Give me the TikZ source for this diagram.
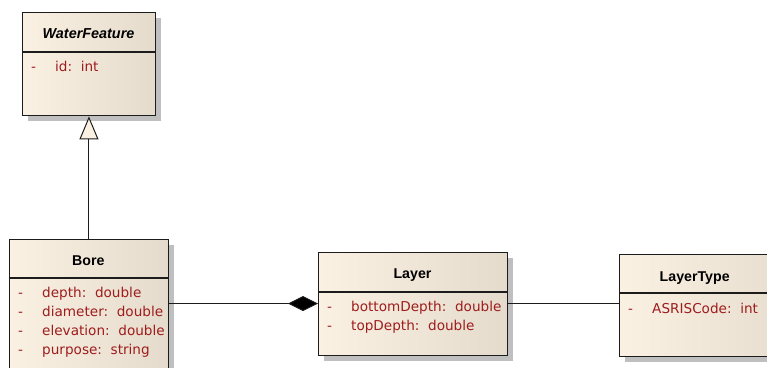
\documentclass[tikz,border=0pt]{standalone}
\usepackage{fontspec}
\setmainfont{DejaVu Sans}
\newfontfamily\titlefont{Liberation Sans}
\usetikzlibrary{shadows,arrows.meta}
\definecolor{cream}{HTML}{FAF1E3}
\definecolor{creamdark}{HTML}{E5DBCC}
\definecolor{attr}{HTML}{9E1C1C}
\definecolor{edge}{HTML}{1C1C1C}
\tikzset{
  classbox/.style={draw=edge, line width=1.4pt, left color=cream, right color=creamdark,
    drop shadow={shadow xshift=5pt, shadow yshift=-5pt, fill=black!25, opacity=1},
    inner sep=0pt, anchor=north west},
  divider/.style={draw=edge, line width=1.2pt},
  title/.style={font=\titlefont\fontsize{14.2}{16}\selectfont\bfseries, text=black, inner sep=0pt, anchor=base},
  ititle/.style={title, font=\titlefont\fontsize{14.4}{16}\selectfont\bfseries\itshape},
  attrtext/.style={font=\fontsize{13.6}{16}\selectfont, text=attr, inner sep=0pt, anchor=base west},
  link/.style={draw=edge, line width=1pt},
}
\begin{document}
\begin{tikzpicture}[x=1pt,y=-1pt]
\useasboundingbox (0,0) rectangle (767,367);
\clip (0,0) rectangle (767,367);
\fill[white] (0,0) rectangle (767,367);

% WaterFeature
\node[classbox, minimum width=133pt, minimum height=103pt] (wf) at (22,12) {};
\draw[divider] (22,52) -- (155,52);
\node[ititle] (wft) at (88.5,38.5) {WaterFeature};
\node[attrtext] (wfd1) at (31,71) {-};
\node[attrtext] (wfa1) at (55,71) {id:\ \ int};

% Bore
\node[classbox, minimum width=159.5pt, minimum height=140pt] (bore) at (8.5,239) {};
\draw[divider] (8.5,278) -- (168,278);
\node[title] (boret) at (88.25,265.7) {Bore};
\node[attrtext] (bd1) at (18,297.7) {-};
\node[attrtext] (ba1) at (42,297.7) {depth:\ \ double};
\node[attrtext] (bd2) at (18,316.7) {-};
\node[attrtext] (ba2) at (42,316.7) {diameter:\ \ double};
\node[attrtext] (bd3) at (18,335.7) {-};
\node[attrtext] (ba3) at (42,335.7) {elevation:\ \ double};
\node[attrtext] (bd4) at (18,354.7) {-};
\node[attrtext] (ba4) at (42,354.7) {purpose:\ \ string};

% Layer
\node[classbox, minimum width=189pt, minimum height=103pt] (layer) at (318,252) {};
\draw[divider] (318,292) -- (507,292);
\node[title] (layert) at (412.5,278.3) {Layer};
\node[attrtext] (ld1) at (327,311.6) {-};
\node[attrtext] (la1) at (351,311.6) {bottomDepth:\ \ double};
\node[attrtext] (ld2) at (327,330.6) {-};
\node[attrtext] (la2) at (351,330.6) {topDepth:\ \ double};

% LayerType
\node[classbox, minimum width=189pt, minimum height=102.5pt] (lt) at (619,253.5) {};
\draw[divider] (619,293) -- (808,293);
\node[title, anchor=base west] (ltt) at (659.5,281) {LayerType};
\node[attrtext] (ltd1) at (628,313.3) {-};
\node[attrtext] (lta1) at (652,313.3) {ASRISCode:\ \ int};

% connectors
\coordinate (row) at (0,303.5);
\draw[link, -{Triangle[length=23pt, width=19pt, fill=cream, line width=1pt]}]
  (bore.north) -- (bore.north |- wf.south);
\draw[link, {Diamond[length=30pt, width=15pt, fill=black]}-]
  (layer.west |- row) -- (bore.east |- row);
\draw[link] (layer.east |- row) -- (lt.west |- row);
\end{tikzpicture}
\end{document}
